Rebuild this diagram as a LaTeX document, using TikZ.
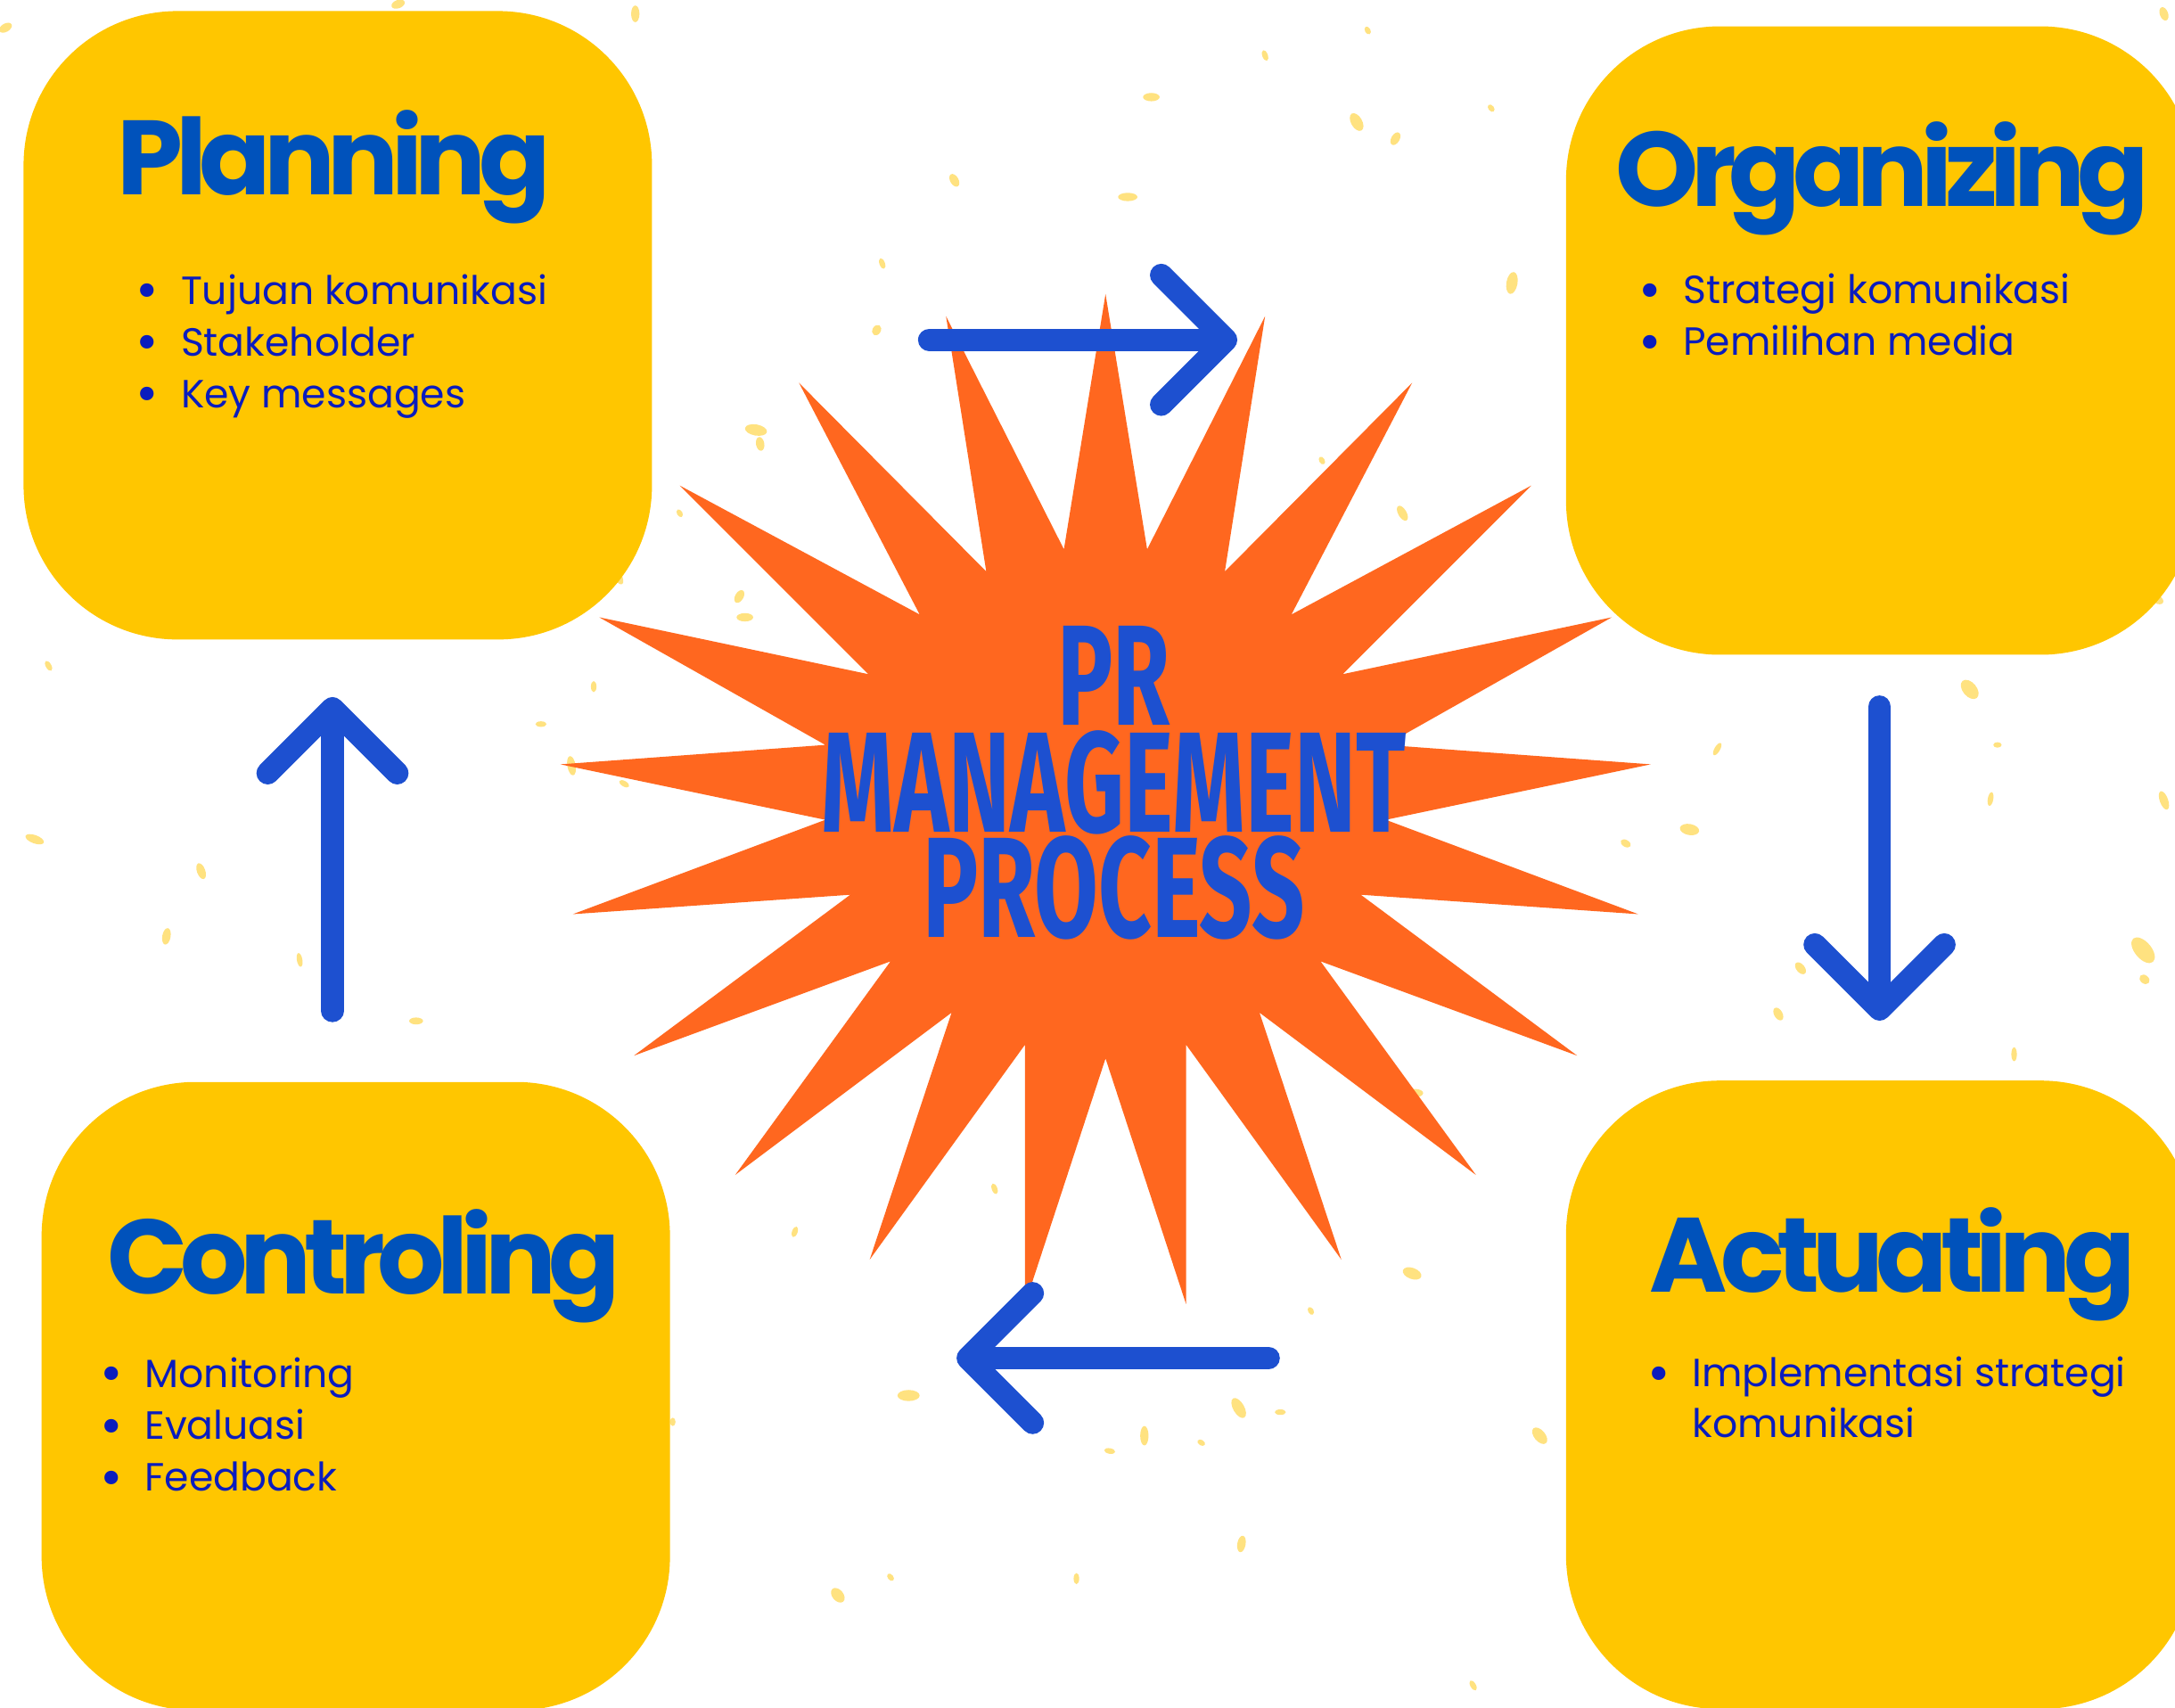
\documentclass[tikz,border=0pt]{standalone}
\usepackage{fontspec}
\setmainfont{Poppins}
\newfontfamily\headfont{Poppins}[UprightFont=* Bold, LetterSpace=-7]
\newfontfamily\burstfont{Fira Sans}[UprightFont=* Bold, FakeStretch=0.648]
\usetikzlibrary{arrows.meta, positioning}
\definecolor{cardyellow}{RGB}{255,198,0}
\definecolor{burstorange}{RGB}{255,103,31}
\definecolor{headblue}{RGB}{0,82,187}
\definecolor{itemblue}{RGB}{10,28,190}
\definecolor{arrowblue}{RGB}{29,80,208}
\definecolor{speckle}{RGB}{255,226,128}
\tikzset{
  card/.style={rectangle, fill=cardyellow, minimum width=6.795cm,
    minimum height=6.795cm, rounded corners=1.665cm, inner sep=0pt},
  heading/.style={anchor=base west, inner sep=0pt, text=headblue,
    font=\headfont\fontsize{32.5}{32.5}\selectfont},
  points/.style={anchor=base west, inner sep=0pt, text=itemblue,
    font=\fontsize{12.1}{16}\selectfont},
  burst/.style={anchor=base, inner sep=0pt, text=arrowblue,
    font=\burstfont\fontsize{44}{44}\selectfont},
  flow/.style={line width=0.245cm, color=arrowblue, line cap=round,
    -{Straight Barb[length=0.7cm, width=1.4cm, round]}},
  fleck/.style={fill=speckle}
}
\newcommand{\bitem}[1]{\makebox[0pt][c]{\raisebox{-0.13em}{\scalebox{1.4}{\textbullet}}}\hspace{0.36cm}#1}

\begin{document}
\begin{tikzpicture}[x=0.015cm, y=-0.015cm]
  \clip (0,0) rectangle (1568,1231);
  \fill[white] (0,0) rectangle (1568,1231);

  % background flecks
  \foreach \x/\y/\a/\b/\r in {458/10/3/6/0, 287/3/5/3/20, 4/20/5/3/30, 986/22/2/3/30,
      912/40/2/4/20, 830/70/6/3/0, 978/88/4/7/30, 1006/100/3/5/-30, 1075/78/2/3/40,
      688/130/3/5/30, 813/142/7/3/0, 636/190/2/4/20, 1090/204/4/8/-10, 632/238/3/4/-30,
      545/310/8/4/-10, 548/320/3/5/10, 490/370/2/3/30, 1011/370/3/6/30, 953/332/2/3/30,
      533/430/3/5/-30, 537/445/6/3/0, 445/415/3/7/30, 428/495/2/4/0, 390/522/4/2/0,
      412/552/3/7/10, 450/565/4/2/-30, 35/480/2/4/30, 25/605/7/3/-20, 145/628/3/6/20,
      120/675/3/6/-10, 216/692/2/5/10, 300/736/5/2.5/0, 1420/497/5/8/40, 1440/537/3/2/0,
      1238/540/2/5/-30, 1218/598/7/4/-10, 1172/608/4/2.5/-30, 1435/576/2/5/-10,
      1560/577/3/7/20, 1545/685/6/11/40, 1546/706/4/3/-40, 1282/731/3/5/30,
      1298/698/3/5/40, 1452/760/2/5/0, 1020/788/6/3/0, 1018/918/7/4/-20, 945/945/2/3/30,
      717/857/2/4/20, 573/888/2/4/-20, 655/1006/8/4/0, 825/1035/3/7/0, 893/1015/4/8/30,
      866/1040/3/2/-30, 800/1046/4/2/-10, 923/1018/4/2/0, 1110/1035/4/7/40,
      895/1113/3/6/-10, 776/1138/2/4/0, 604/1150/4/6/40, 642/1137/2/3/40,
      1062/1215/2/4/30, 1555/432/5/3/-30, 1560/10/3/5/20, 485/1025/2/3/0}
    \fill[fleck, rotate around={\r:(\x,\y)}] (\x,\y) ellipse ({\a} and {\b});

  % the four stages
  \node[card] (plan) at (243.5,234.5) {};
  \node[card] (org)  at (1355.5,245.5) {};
  \node[card] (ctrl) at (256.5,1006.5) {};
  \node[card] (act)  at (1355.5,1005.5) {};

  % starburst
  \fill[burstorange] (797,212) -- (827,396) -- (912,228) -- (883,412) -- (1018,276)
    -- (931,443) -- (1104,350) -- (968,486) -- (1162,445) -- (999,537) -- (1190,551)
    -- (999,591) -- (1181,659) -- (981,645) -- (1137,761) -- (952,693) -- (1064,847)
    -- (908,730) -- (967,908) -- (855,753) -- (855,940) -- (797,763) -- (739,940)
    -- (739,753) -- (627,908) -- (686,730) -- (530,847) -- (642,693) -- (457,761)
    -- (613,645) -- (413,659) -- (595,591) -- (404,551) -- (595,537) -- (432,445)
    -- (626,486) -- (490,350) -- (663,443) -- (576,276) -- (711,412) -- (682,228)
    -- (767,396) -- cycle;
  \node[burst] (pr)   at (803,523) {PR};
  \node[burst] (mgmt) at (803,600) {MANAGEMENT};
  \node[burst] (proc) at (803,676) {PROCESS};

  % headings and points
  \node[heading] (planT) at (84,140.5) {Planning};
  \node[points] (planA) at (106,219.3) {\bitem{Tujuan komunikasi}};
  \node[points] (planB) at (106,256.5) {\bitem{Stakeholder}};
  \node[points] (planC) at (106,293.7) {\bitem{Key messages}};

  \node[heading] (orgT) at (1164,149) {Organizing};
  \node[points] (orgA) at (1189,219) {\bitem{Strategi komunikasi}};
  \node[points] (orgB) at (1189,256.4) {\bitem{Pemilihan media}};

  \node[heading] (ctrlT) at (77,932.8) {Controling};
  \node[points] (ctrlA) at (80,1000) {\bitem{Monitoring}};
  \node[points] (ctrlB) at (80,1037.5) {\bitem{Evaluasi}};
  \node[points] (ctrlC) at (80,1075) {\bitem{Feedback}};

  \node[heading] (actT) at (1189,931.3) {Actuating};
  \node[points] (actA) at (1195.5,999.7) {\bitem{Implementasi strategi}};
  \node[points] (actB) at (1195.5,1036.5) {\hspace{0.36cm}komunikasi};

  % cycle arrows
  \coordinate (topS) at (670,245);     \coordinate (topE) at (892,245);
  \coordinate (rightS) at (1355,509.5); \coordinate (rightE) at (1355,735.8);
  \coordinate (botS) at (914.5,979);   \coordinate (botE) at (689.6,979);
  \coordinate (leftS) at (239.7,728.7); \coordinate (leftE) at (239.7,502.5);
  \draw[flow] (topS) -- (topE);
  \draw[flow] (rightS) -- (rightE);
  \draw[flow] (botS) -- (botE);
  \draw[flow] (leftS) -- (leftE);
\end{tikzpicture}
\end{document}
